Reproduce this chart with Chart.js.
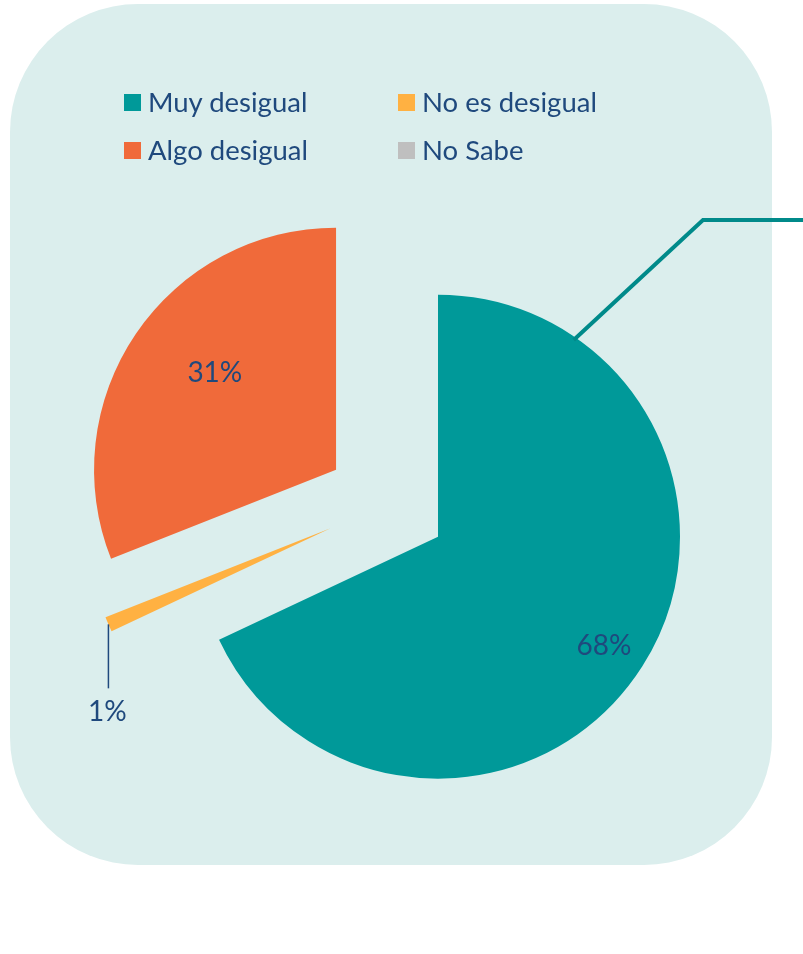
<!DOCTYPE html>
<html>
<head>
<meta charset="utf-8">
<script src="https://cdn.jsdelivr.net/npm/chart.js@4.4.1/dist/chart.umd.min.js"></script>
<style>
    html, body { margin: 0; padding: 0; background: #fff; }
    #wrap { position: relative; width: 803px; height: 954px; overflow: hidden; }
    #pieChart { position: absolute; left: 0; top: 0; }
    #legend { position: absolute; left: 124px; top: 78px; display: grid; grid-template-columns: 274px auto; }
    .legend-item { display: flex; align-items: center; height: 48px; font-family: Lato, sans-serif; font-size: 27.5px; line-height: 1; color: #1F497D; white-space: nowrap; }
    .legend-box { width: 17px; height: 17px; margin-right: 7px; flex: none; }
</style>
</head>
<body>
<div id="wrap">
    <canvas id="pieChart" width="803" height="954"></canvas>
    <div id="legend"></div>
</div>
<script>
// --- Data ---
const categories = ['Muy desigual', 'No es desigual', 'Algo desigual', 'No Sabe'];
const shares = [68, 1, 31, 0];
const sliceColors = ['#009999', '#FFB142', '#F06A3A', '#BFBFBF'];

const TEXT_COLOR = '#1F497D';
const EXPLODE = 61;   // px each slice is pulled out of the centre
const RADIUS = 242;

// rounded panel behind everything
const panelPlugin = {
    id: 'panel',
    beforeDraw(chart) {
        const ctx = chart.ctx;
        ctx.save();
        ctx.fillStyle = '#DBEEED';
        ctx.beginPath();
        ctx.roundRect(10, 4, 762, 861, 128);
        ctx.fill();
        ctx.restore();
    }
};

// pull every slice out along its own bisector (excel style explode)
const explodePlugin = {
    id: 'explode',
    afterDatasetUpdate(chart, args) {
        chart.getDatasetMeta(args.index).data.forEach(arc => {
            const mid = (arc.startAngle + arc.endAngle) / 2;
            arc.x += Math.cos(mid) * EXPLODE;
            arc.y += Math.sin(mid) * EXPLODE;
        });
    }
};

// legend as html, filled from chart's own legend items
const htmlLegendPlugin = {
    id: 'htmlLegend',
    afterUpdate(chart) {
        const box = document.getElementById('legend');
        const items = chart.options.plugins.legend.labels.generateLabels(chart);
        box.innerHTML = items.map(item => `
            <div class="legend-item">
                <span class="legend-box" style="background:${item.fillStyle}"></span>${item.text}
            </div>`).join('');
    }
};

// percentage labels + leader lines
const labelPlugin = {
    id: 'sliceLabels',
    afterDatasetsDraw(chart, args, opts) {
        const ctx = chart.ctx;
        const meta = chart.getDatasetMeta(0);
        const total = shares.reduce((a, b) => a + b, 0);
        ctx.save();
        ctx.font = '28px Lato';
        ctx.fillStyle = TEXT_COLOR;
        ctx.textAlign = 'center';
        ctx.textBaseline = 'middle';

        meta.data.forEach((arc, i) => {
            const place = opts.places[i];
            if (!place || shares[i] === 0) return;
            const {x, y, startAngle, endAngle, outerRadius} = arc;
            const mid = (startAngle + endAngle) / 2;
            const text = Math.round(shares[i] / total * 100) + '%';

            if (place.drop) {
                // label hanging under the slice tip
                const ex = x + Math.cos(mid) * outerRadius;
                const ey = y + Math.sin(mid) * outerRadius;
                ctx.strokeStyle = TEXT_COLOR;
                ctx.lineWidth = 1.5;
                ctx.beginPath();
                ctx.moveTo(ex, ey);
                ctx.lineTo(ex, ey + place.drop);
                ctx.stroke();
                ctx.fillText(text, ex - 1, ey + place.drop + 24);
            } else {
                const a = mid + place.turn * Math.PI / 180;
                ctx.fillText(text, x + Math.cos(a) * outerRadius * place.frac, y + Math.sin(a) * outerRadius * place.frac);
            }
        });

        // the long leader leaving the teal slice to the right
        const lead = opts.leader;
        const arc = meta.data[lead.index];
        const a = arc.startAngle + (arc.endAngle - arc.startAngle) * lead.at;
        ctx.strokeStyle = lead.color;
        ctx.lineWidth = 4;
        ctx.beginPath();
        ctx.moveTo(arc.x + Math.cos(a) * (arc.outerRadius - 3), arc.y + Math.sin(a) * (arc.outerRadius - 3));
        ctx.lineTo(lead.elbowX, lead.elbowY);
        ctx.lineTo(chart.width, lead.elbowY);
        ctx.stroke();
        ctx.restore();
    }
};

const ctx = document.getElementById('pieChart').getContext('2d');
const pieChart = new Chart(ctx, {
    type: 'pie',
    data: {
        labels: categories,
        datasets: [{
            data: shares,
            backgroundColor: sliceColors,
            borderWidth: 0
        }]
    },
    options: {
        responsive: false,
        animation: false,
        radius: RADIUS,
        layout: { padding: { left: 0, right: 30, top: 54, bottom: 0 } },
        plugins: {
            legend: { display: false },
            tooltip: { enabled: false },
            sliceLabels: {
                places: [
                    { frac: 0.82, turn: 0.9 },
                    { drop: 64 },
                    { frac: 0.64, turn: 4.3 },
                    null
                ],
                leader: { index: 0, at: 0.1413, elbowX: 703, elbowY: 220, color: '#008A8A' }
            }
        }
    },
    plugins: [panelPlugin, explodePlugin, htmlLegendPlugin, labelPlugin]
});
</script>
</body>
</html>
